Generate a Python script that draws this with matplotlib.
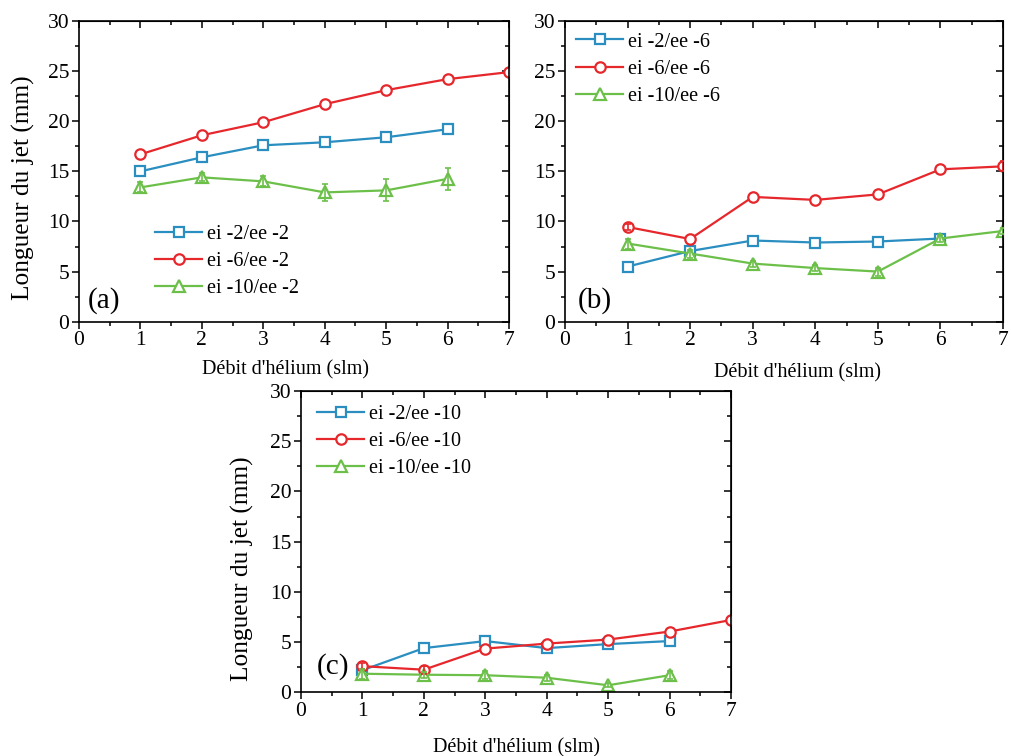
import matplotlib
matplotlib.use('Agg')
import matplotlib.pyplot as plt
from matplotlib.ticker import MultipleLocator

plt.rcParams['font.family'] = ['Liberation Serif', 'DejaVu Serif']

# Data
flow = [1, 2, 3, 4, 5, 6, 7]

# (a) ee -2
a_blue = [15.0, 16.4, 17.6, 17.9, 18.4, 19.2]
a_red = [16.7, 18.6, 19.9, 21.7, 23.1, 24.2, 24.9]
a_green = [13.4, 14.4, 14.0, 12.9, 13.1, 14.25]
a_green_err = [0.5, 0.4, 0.5, 0.85, 1.1, 1.1]

# (b) ee -6
b_blue = [5.5, 7.05, 8.1, 7.9, 8.0, 8.3]
b_red = [9.45, 8.25, 12.45, 12.15, 12.7, 15.2, 15.5]
b_red_err = [0.3, 0, 0, 0, 0, 0, 0.5]
b_green = [7.8, 6.8, 5.8, 5.35, 5.0, 8.3, 9.05]
b_green_err = [0.5, 0.4, 0.3, 0.3, 0.4, 0.3, 0.3]

# (c) ee -10
c_blue = [2.2, 4.4, 5.1, 4.4, 4.8, 5.1]
c_red = [2.6, 2.25, 4.35, 4.85, 5.25, 6.05, 7.2]
c_red_err = [0.3, 0.4, 0, 0, 0, 0, 0]
c_green = [1.85, 1.75, 1.7, 1.45, 0.7, 1.7]
c_green_err = [0.5, 0.3, 0.4, 0.3, 0.2, 0.4]

labels_a = ['ei -2/ee -2', 'ei -6/ee -2', 'ei -10/ee -2']
labels_b = ['ei -2/ee -6', 'ei -6/ee -6', 'ei -10/ee -6']
labels_c = ['ei -2/ee -10', 'ei -6/ee -10', 'ei -10/ee -10']

BLUE = '#2a8ec0'
RED = '#e6272c'
GREEN = '#6cc04a'

W, H = 1011, 756


def px_axes(fig, left, right, top, bottom):
    '''axes from pixel edges'''
    return fig.add_axes([left / W, 1 - bottom / H, (right - left) / W, (bottom - top) / H])


def series(ax, y, color, marker, ms, label, yerr=None):
    x = flow[:len(y)]
    ax.plot(x, y, color=color, marker=marker, markersize=ms,
            markerfacecolor='white', markeredgecolor=color, markeredgewidth=1.6,
            linewidth=1.6, label=label, zorder=2)
    if yerr is not None:
        # only the points that carry an error bar
        pts = [(xi, yi, ei) for xi, yi, ei in zip(x, y, yerr) if ei > 0]
        ex, ey, ee = zip(*pts)
        ax.errorbar(ex, ey, yerr=ee, fmt='none', ecolor=color,
                    elinewidth=1.2, capsize=2.5, capthick=1.2, zorder=3)


def style(ax, tag, tag_xy, leg_xy, xl_xy, yl_xy=None):
    ax.set_xlim(0, 7)
    ax.set_ylim(0, 30)
    ax.xaxis.set_major_locator(MultipleLocator(1))
    ax.xaxis.set_minor_locator(MultipleLocator(0.5))
    ax.yaxis.set_major_locator(MultipleLocator(5))
    ax.yaxis.set_minor_locator(MultipleLocator(2.5))
    ax.tick_params(which='both', direction='out', width=1.1, labelsize=15.5, pad=2)
    ax.tick_params(which='major', length=5)
    ax.tick_params(which='minor', length=3)
    for s in ax.spines.values():
        s.set_linewidth(1.2)

    # mirrored ticks pointing inward, Origin style
    top = ax.secondary_xaxis('top')
    top.xaxis.set_major_locator(MultipleLocator(1))
    top.xaxis.set_minor_locator(MultipleLocator(0.5))
    top.tick_params(which='both', direction='in', labeltop=False, width=1.1)
    top.tick_params(which='major', length=5)
    top.tick_params(which='minor', length=3)
    right = ax.secondary_yaxis('right')
    right.yaxis.set_major_locator(MultipleLocator(5))
    right.yaxis.set_minor_locator(MultipleLocator(2.5))
    right.tick_params(which='both', direction='in', labelright=False, width=1.1)
    right.tick_params(which='major', length=5)
    right.tick_params(which='minor', length=3)

    ax.text(tag_xy[0], tag_xy[1], tag, transform=ax.transAxes, fontsize=21,
            ha='left', va='center')
    ax.legend(loc='upper left', bbox_to_anchor=leg_xy, frameon=False,
              fontsize=14.5, handlelength=2.35, handletextpad=0.25,
              labelspacing=0.4, borderpad=0, borderaxespad=0)

    ax.set_xlabel("Débit d'hélium (slm)", fontsize=14.5)
    ax.xaxis.set_label_coords(*xl_xy)
    ax.xaxis.label.set_va('center')
    if yl_xy is not None:
        ax.set_ylabel('Longueur du jet (mm)', fontsize=18.3)
        ax.yaxis.set_label_coords(*yl_xy)
        ax.yaxis.label.set_va('center')


def main():
    fig = plt.figure(figsize=(W / 100, H / 100), dpi=100)

    ax_a = px_axes(fig, 79, 509, 21, 321.7)
    series(ax_a, a_blue, BLUE, 's', 6.5, labels_a[0])
    series(ax_a, a_red, RED, 'o', 7.5, labels_a[1])
    series(ax_a, a_green, GREEN, '^', 8.5, labels_a[2], a_green_err)
    style(ax_a, '(a)', (0.02, 0.072), (0.177, 0.323), (0.481, -0.161), (-0.13, 0.445))

    ax_b = px_axes(fig, 565, 1003, 21, 321.7)
    series(ax_b, b_blue, BLUE, 's', 6.5, labels_b[0])
    series(ax_b, b_red, RED, 'o', 7.5, labels_b[1], b_red_err)
    series(ax_b, b_green, GREEN, '^', 8.5, labels_b[2], b_green_err)
    style(ax_b, '(b)', (0.03, 0.072), (0.025, 0.962), (0.53, -0.171))

    ax_c = px_axes(fig, 301, 731, 391, 692.3)
    series(ax_c, c_blue, BLUE, 's', 6.5, labels_c[0])
    series(ax_c, c_red, RED, 'o', 7.5, labels_c[1], c_red_err)
    series(ax_c, c_green, GREEN, '^', 8.5, labels_c[2], c_green_err)
    style(ax_c, '(c)', (0.037, 0.084), (0.037, 0.955), (0.502, -0.183), (-0.137, 0.409))

    fig.savefig('out.png', dpi=100)


if __name__ == '__main__':
    main()
